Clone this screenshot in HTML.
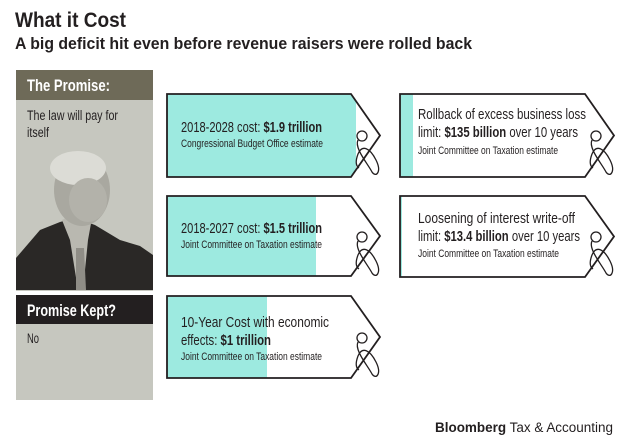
<!DOCTYPE html>
<html><head><meta charset="utf-8"><style>
body{margin:0;background:#fff;}
svg{display:block}
.n{font-family:"Liberation Sans Narrow","Liberation Sans",sans-serif;fill:#231f20}
.s{font-family:"Liberation Sans",sans-serif;fill:#231f20}
</style></head><body>
<svg width="633" height="447" viewBox="0 0 633 447" xmlns="http://www.w3.org/2000/svg">
<defs>
<clipPath id="c1"><path d="M167,94H351L380,135.5L351,177H167Z"/></clipPath>
<clipPath id="c2"><path d="M167,196H351L380,236L351,276H167Z"/></clipPath>
<clipPath id="c3"><path d="M167,296H351L380,337L351,378H167Z"/></clipPath>
<clipPath id="c4"><path d="M400,94H585L614,135.5L585,177H400Z"/></clipPath>
<clipPath id="c5"><path d="M400,196H585L614,236.5L585,277H400Z"/></clipPath>
</defs>
<text x="15" y="27" class="s" font-size="21" font-weight="bold" textLength="111" lengthAdjust="spacingAndGlyphs">What it Cost</text>
<text x="15" y="49" class="s" font-size="16.5" font-weight="bold" textLength="457" lengthAdjust="spacingAndGlyphs">A big deficit hit even before revenue raisers were rolled back</text>

<rect x="16" y="70" width="137" height="30" fill="#6e6a58"/>
<text x="27" y="91" class="n" font-size="17" font-weight="bold" style="fill:#fff" textLength="83" lengthAdjust="spacingAndGlyphs">The Promise:</text>
<rect x="16" y="100" width="137" height="191" fill="#c6c7bf"/>
<text x="27" y="120" class="n" font-size="13.5" textLength="91" lengthAdjust="spacingAndGlyphs">The law will pay for</text>
<text x="27" y="137" class="n" font-size="13.5" textLength="22" lengthAdjust="spacingAndGlyphs">itself</text>
<g>
<path d="M16,258 L40,230 L60,222 L75,218 L95,225 L120,240 L140,246 L153,255 L153,290 L16,290Z" fill="#2a2826"/>
<path d="M62,220 L78,212 L92,218 L88,240 L83,290 L78,290 L70,240Z" fill="#b9b8b0"/>
<path d="M76,248 L84,248 L86,290 L76,290Z" fill="#8f8d86"/>
<ellipse cx="82" cy="190" rx="28" ry="36" fill="#a9a8a0"/>
<ellipse cx="78" cy="168" rx="28" ry="17" fill="#dcdcd6"/>
<ellipse cx="88" cy="200" rx="19" ry="22" fill="#b3b2aa"/>
</g>
<rect x="16" y="295" width="137" height="29" fill="#231f20"/>
<text x="27" y="316" class="n" font-size="17" font-weight="bold" style="fill:#fff" textLength="89" lengthAdjust="spacingAndGlyphs">Promise Kept?</text>
<rect x="16" y="324" width="137" height="76" fill="#c6c7bf"/>
<text x="27" y="343" class="n" font-size="13.5" textLength="12" lengthAdjust="spacingAndGlyphs">No</text>

<g clip-path="url(#c1)"><rect x="160" y="90" width="196" height="100" fill="#9deae0"/></g>
<g clip-path="url(#c2)"><rect x="160" y="190" width="156" height="100" fill="#9deae0"/></g>
<g clip-path="url(#c3)"><rect x="160" y="290" width="107" height="100" fill="#9deae0"/></g>
<g clip-path="url(#c4)"><rect x="395" y="90" width="18" height="100" fill="#9deae0"/></g>
<g clip-path="url(#c5)"><rect x="395" y="190" width="7" height="100" fill="#9deae0"/></g>
<g fill="none" stroke="#231f20" stroke-width="1.8">
<path d="M167,94H351L380,135.5L351,177H167Z"/>
<path d="M167,196H351L380,236L351,276H167Z"/>
<path d="M167,296H351L380,337L351,378H167Z"/>
<path d="M400,94H585L614,135.5L585,177H400Z"/>
<path d="M400,196H585L614,236.5L585,277H400Z"/>
</g>
<g fill="none" stroke="#231f20" stroke-width="1.3">
<g transform="translate(362,136)"><circle r="5"/><path d="M-4,4 C-8,12 6,28 10,36 C14,42 20,36 14,24 C8,12 0,8 -4,18 C-7,26 -6,30 -3,32"/></g>
<g transform="translate(362,237)"><circle r="5"/><path d="M-4,4 C-8,12 6,28 10,36 C14,42 20,36 14,24 C8,12 0,8 -4,18 C-7,26 -6,30 -3,32"/></g>
<g transform="translate(362,338)"><circle r="5"/><path d="M-4,4 C-8,12 6,28 10,36 C14,42 20,36 14,24 C8,12 0,8 -4,18 C-7,26 -6,30 -3,32"/></g>
<g transform="translate(596,136)"><circle r="5"/><path d="M-4,4 C-8,12 6,28 10,36 C14,42 20,36 14,24 C8,12 0,8 -4,18 C-7,26 -6,30 -3,32"/></g>
<g transform="translate(596,237)"><circle r="5"/><path d="M-4,4 C-8,12 6,28 10,36 C14,42 20,36 14,24 C8,12 0,8 -4,18 C-7,26 -6,30 -3,32"/></g>
</g>

<text x="181" y="132" class="n" font-size="15" textLength="141" lengthAdjust="spacingAndGlyphs">2018-2028 cost: <tspan font-weight="bold">$1.9 trillion</tspan></text>
<text x="181" y="147" class="n" font-size="11" textLength="142" lengthAdjust="spacingAndGlyphs">Congressional Budget Office estimate</text>
<text x="181" y="233" class="n" font-size="15" textLength="141" lengthAdjust="spacingAndGlyphs">2018-2027 cost: <tspan font-weight="bold">$1.5 trillion</tspan></text>
<text x="181" y="248" class="n" font-size="11" textLength="141" lengthAdjust="spacingAndGlyphs">Joint Committee on Taxation estimate</text>
<text x="181" y="327" class="n" font-size="15" textLength="148" lengthAdjust="spacingAndGlyphs">10-Year Cost with economic</text>
<text x="181" y="345" class="n" font-size="15" textLength="90" lengthAdjust="spacingAndGlyphs">effects: <tspan font-weight="bold">$1 trillion</tspan></text>
<text x="181" y="360" class="n" font-size="11" textLength="141" lengthAdjust="spacingAndGlyphs">Joint Committee on Taxation estimate</text>
<text x="418" y="119" class="n" font-size="15" textLength="168" lengthAdjust="spacingAndGlyphs">Rollback of excess business loss</text>
<text x="418" y="137" class="n" font-size="15" textLength="160" lengthAdjust="spacingAndGlyphs">limit: <tspan font-weight="bold">$135 billion</tspan> over 10 years</text>
<text x="418" y="154" class="n" font-size="11" textLength="140" lengthAdjust="spacingAndGlyphs">Joint Committee on Taxation estimate</text>
<text x="418" y="223" class="n" font-size="15" textLength="157" lengthAdjust="spacingAndGlyphs">Loosening of interest write-off</text>
<text x="418" y="241" class="n" font-size="15" textLength="162" lengthAdjust="spacingAndGlyphs">limit: <tspan font-weight="bold">$13.4 billion</tspan> over 10 years</text>
<text x="418" y="257" class="n" font-size="11" textLength="141" lengthAdjust="spacingAndGlyphs">Joint Committee on Taxation estimate</text>

<text x="435" y="432" class="s" font-size="13.5" textLength="178" lengthAdjust="spacingAndGlyphs"><tspan font-weight="bold">Bloomberg</tspan> Tax &amp; Accounting</text>
</svg>
</body></html>
